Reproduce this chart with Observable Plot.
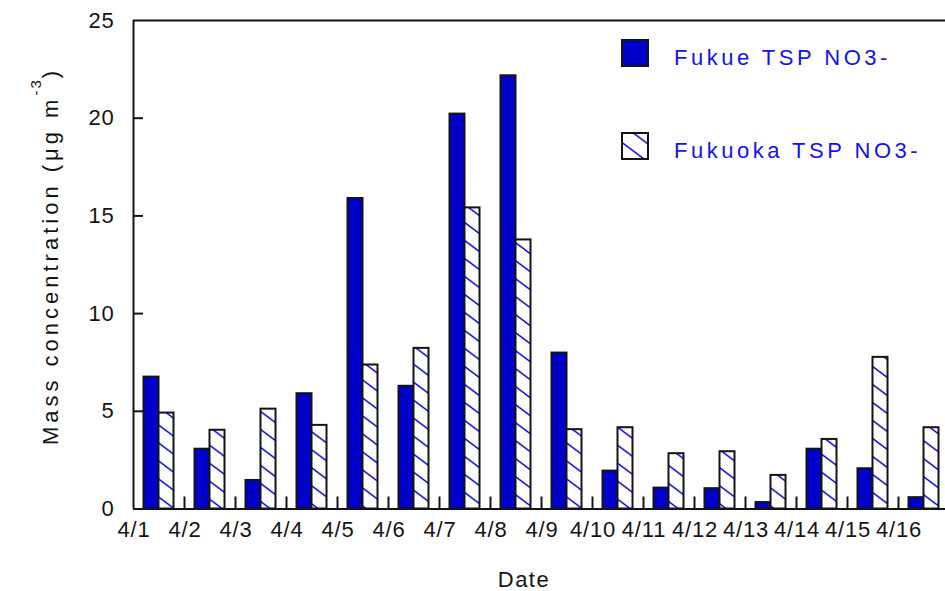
<!DOCTYPE html>
<html>
<head>
<meta charset="utf-8">
<script src="https://cdn.jsdelivr.net/npm/d3@7"></script>
<script src="https://cdn.jsdelivr.net/npm/@observablehq/plot@0.6"></script>
<style>
  html, body { margin: 0; padding: 0; background: #fff; overflow: hidden; }
  #chart svg { display: block; }
</style>
</head>
<body>
<div id="chart"></div>
<script>
// Daily nitrate (NO3-) mass concentration in TSP at two sites, 1–16 April
const dates = ["4/1", "4/2", "4/3", "4/4", "4/5", "4/6", "4/7", "4/8",
               "4/9", "4/10", "4/11", "4/12", "4/13", "4/14", "4/15", "4/16"];
const fukue   = [6.75, 3.06, 1.46, 5.90, 15.89, 6.28, 20.21, 22.17,
                 7.98, 1.94, 1.07, 1.04, 0.33, 3.06, 2.06, 0.58];
const fukuoka = [4.91, 4.03, 5.11, 4.28, 7.37, 8.22, 15.41, 13.77,
                 4.06, 4.16, 2.83, 2.93, 1.72, 3.56, 7.76, 4.16];
const seriesNames = ["Fukue TSP NO3-", "Fukuoka TSP NO3-"];
const yTicks = [0, 5, 10, 15, 20, 25];
const xTitle = "Date";
const yTitle = ["Mass concentration (\u03bcg m", "-3", ")"];

const rows = dates.map((date, i) => ({date, fukue: fukue[i], fukuoka: fukuoka[i]}));

const W = 945, H = 591;
const blue = "#0000cc";
const ink = "#141414";
const font = "'Liberation Sans', Arial, sans-serif";
const half = 25.5; // half of a date band, used to sit ticks and labels on band edges

const chart = Plot.plot({
  width: W,
  height: H,
  marginLeft: 133,
  marginRight: 0,
  marginTop: 20,
  marginBottom: 82.5,
  x: {domain: dates, range: [133, 949], padding: 0, axis: null},
  y: {domain: [0, 25], axis: null},
  style: {fontFamily: font, fontSize: "22px", background: "#fff", color: ink},
  marks: [
    // paired bars inside each date band
    Plot.barY(rows, {x: "date", y: "fukue", fill: blue, stroke: ink, strokeWidth: 2,
                     insetLeft: 10.5, insetRight: 25.5}),
    Plot.barY(rows, {x: "date", y: "fukuoka", fill: "url(#hatch)", stroke: ink, strokeWidth: 2,
                     insetLeft: 25.5, insetRight: 10.5}),
    // plot frame: left axis line, baseline and top line
    Plot.tickX(dates.slice(0, 1), {x: d => d, dx: -half, stroke: ink, strokeWidth: 2}),
    Plot.ruleY([0, 25], {stroke: ink, strokeWidth: 2}),
    // short inward ticks between dates
    Plot.tickX(dates.slice(1), {x: d => d, dx: -half, insetTop: 476.5, stroke: ink, strokeWidth: 2}),
    // short inward ticks on the value axis
    Plot.tickY(yTicks.slice(1, -1), {y: d => d, insetRight: 802, stroke: ink, strokeWidth: 2}),
    // date labels sit under the band edges
    Plot.text(dates, {x: d => d, frameAnchor: "bottom", dx: -half + 0.5, dy: 21,
                      lineAnchor: "middle", fill: ink, fontSize: 22}),
    // value labels
    Plot.text(yTicks, {y: d => d, frameAnchor: "left", dx: -19, textAnchor: "end",
                       lineAnchor: "middle", fill: ink, fontSize: 22})
  ]
});

document.getElementById("chart").appendChild(chart);

const svg = d3.select(chart);
svg.selectAll("text").style("letter-spacing", "0.8px");

// diagonal hatch used by the second series
const defs = svg.insert("defs", ":first-child");
const pat = defs.append("pattern")
  .attr("id", "hatch")
  .attr("patternUnits", "userSpaceOnUse")
  .attr("width", 24)
  .attr("height", 18);
pat.append("rect").attr("width", 24).attr("height", 18).attr("fill", "#fff");
pat.append("path")
  .attr("d", "M-8,-6L32,24M16,-6L32,6M-8,12L8,24")
  .attr("stroke", "#1a1ae0")
  .attr("stroke-width", 1.6)
  .attr("fill", "none");

// axis titles
const yLabel = svg.append("text")
  .attr("transform", "translate(58,256) rotate(-90)")
  .attr("text-anchor", "middle")
  .attr("font-family", font)
  .attr("font-size", 22)
  .attr("fill", ink)
  .style("letter-spacing", "4px");
yLabel.append("tspan").text(yTitle[0]);
yLabel.append("tspan").attr("dy", -17).attr("font-size", 15).style("letter-spacing", "2px").text(yTitle[1]);
yLabel.append("tspan").attr("dy", 17).text(yTitle[2]);

svg.append("text")
  .attr("x", 524)
  .attr("y", 587)
  .attr("text-anchor", "middle")
  .attr("font-family", font)
  .attr("font-size", 22)
  .attr("fill", ink)
  .style("letter-spacing", "1.5px")
  .text(xTitle);

// legend
const legend = svg.append("g")
  .attr("font-family", font)
  .attr("font-size", 22)
  .attr("text-anchor", "start");
const swatches = [blue, "url(#hatch)"];
const legendY = [40, 133];
seriesNames.forEach((name, i) => {
  legend.append("rect")
    .attr("x", 622).attr("y", legendY[i])
    .attr("width", 26).attr("height", 26)
    .attr("fill", swatches[i])
    .attr("stroke", ink).attr("stroke-width", 2);
  legend.append("text")
    .attr("x", 674).attr("y", legendY[i] + 25)
    .attr("text-anchor", "start")
    .attr("fill", "#1414e6")
    .style("letter-spacing", "3.5px")
    .text(name);
});
</script>
</body>
</html>
